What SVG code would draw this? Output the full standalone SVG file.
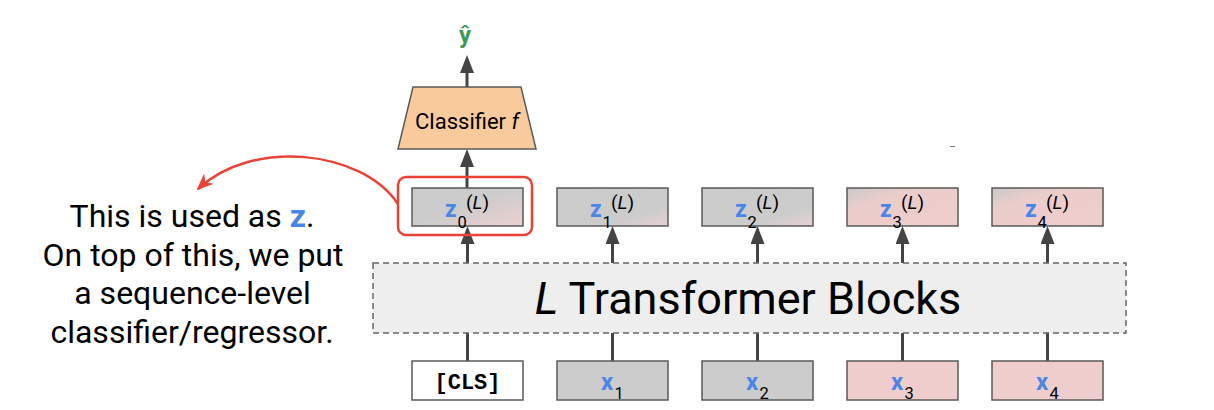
<svg xmlns="http://www.w3.org/2000/svg" width="1214" height="410" viewBox="0 0 1214 410">
<style>
  text { font-family: Roboto, "Liberation Sans", sans-serif; }
  .box { stroke: #595959; stroke-width: 1.5; }
  .gray { fill: #cccccc; }
  .pink { fill: #efcdcc; }
  .var { fill: #4a86e8; font-weight: bold; }
  .zv { font-size: 23px; }
  .xv { font-size: 24px; }
  .sub { font-size: 16.5px; fill: #000; }
  .sup { font-size: 19px; fill: #000; }
  .note { font-size: 32px; fill: #000; }
  .conn { stroke: #444444; stroke-width: 3; fill: none; }
  .arr { stroke: #444444; stroke-width: 3; fill: none; marker-end: url(#ah); }
</style>
<defs>
  <marker id="ah" markerUnits="userSpaceOnUse" viewBox="0 0 18 14" refX="6" refY="7" markerWidth="18" markerHeight="14" orient="auto">
    <path d="M0,0 L18,7 L0,14 z" fill="#444444"/>
  </marker>
  <marker id="redah" markerUnits="userSpaceOnUse" viewBox="0 0 18 16" refX="15" refY="8" markerWidth="18" markerHeight="16" orient="auto">
    <path d="M0,1 L17,8 L0,15 L5,8 z" fill="#ea4335"/>
  </marker>
  <linearGradient id="g0" x1="0" y1="0" x2="1" y2="1">
    <stop offset="0" stop-color="#cbcbcb"/>
    <stop offset="0.45" stop-color="#cccccc"/>
    <stop offset="1" stop-color="#ecd0d0"/>
  </linearGradient>
  <linearGradient id="g1" x1="0" y1="0" x2="1" y2="1">
    <stop offset="0" stop-color="#cbcbcb"/>
    <stop offset="0.72" stop-color="#cccccc"/>
    <stop offset="1" stop-color="#e8cfcf"/>
  </linearGradient>
  <linearGradient id="g3" x1="0" y1="0" x2="1" y2="1">
    <stop offset="0" stop-color="#c8c8c8"/>
    <stop offset="0.3" stop-color="#ebcdcc"/>
    <stop offset="1" stop-color="#efcdcc"/>
  </linearGradient>
</defs>

<!-- connectors -->
<g id="connectors">
  <line class="arr" x1="467" y1="87" x2="467" y2="67"/>
  <line class="arr" x1="467" y1="188" x2="467" y2="161"/>
  <line class="arr" x1="467.5" y1="263" x2="467.5" y2="238"/>
  <line class="arr" x1="612.5" y1="263" x2="612.5" y2="238"/>
  <line class="arr" x1="757.5" y1="263" x2="757.5" y2="238"/>
  <line class="arr" x1="902.5" y1="263" x2="902.5" y2="238"/>
  <line class="arr" x1="1047.5" y1="263" x2="1047.5" y2="238"/>
  <line class="conn" x1="467.5" y1="361" x2="467.5" y2="333"/>
  <line class="conn" x1="612.5" y1="361" x2="612.5" y2="333"/>
  <line class="conn" x1="757.5" y1="361" x2="757.5" y2="333"/>
  <line class="conn" x1="902.5" y1="361" x2="902.5" y2="333"/>
  <line class="conn" x1="1047.5" y1="361" x2="1047.5" y2="333"/>
  <path d="M398,204 C362,150 252,138 198,189" stroke="#ea4335" stroke-width="2.5" fill="none" marker-end="url(#redah)"/>
</g>

<g id="yhat">
  <text x="465" y="43" font-size="24" font-weight="bold" fill="#3a9b57" text-anchor="middle">ŷ</text>
</g>

<g id="classifier">
  <polygon points="413,87 521,87 536,149 398,149" fill="#f9cb9c" stroke="#595959" stroke-width="1.5"/>
  <text x="467" y="129" font-size="22" text-anchor="middle" fill="#000">Classifier <tspan font-style="italic">f</tspan></text>
</g>

<g id="z0">
  <rect class="box" x="412" y="188" width="111" height="38" fill="url(#g0)"/>
  <text x="445" y="217" class="var zv">z</text>
  <text x="457.5" y="228" class="sub">0</text>
  <text x="466" y="209" class="sup">(<tspan font-style="italic">L</tspan>)</text>
</g>
<g id="z1">
  <rect class="box" x="557" y="188" width="111" height="38" fill="url(#g1)"/>
  <text x="590" y="217" class="var zv">z</text>
  <text x="602.5" y="228" class="sub">1</text>
  <text x="611" y="209" class="sup">(<tspan font-style="italic">L</tspan>)</text>
</g>
<g id="z2">
  <rect class="box" x="702" y="188" width="111" height="38" fill="url(#g1)"/>
  <text x="735" y="217" class="var zv">z</text>
  <text x="747.5" y="228" class="sub">2</text>
  <text x="756" y="209" class="sup">(<tspan font-style="italic">L</tspan>)</text>
</g>
<g id="z3">
  <rect class="box" x="847" y="188" width="111" height="38" fill="url(#g3)"/>
  <text x="880" y="217" class="var zv">z</text>
  <text x="892.5" y="228" class="sub">3</text>
  <text x="901" y="209" class="sup">(<tspan font-style="italic">L</tspan>)</text>
</g>
<g id="z4">
  <rect class="box" x="992" y="188" width="111" height="38" fill="url(#g3)"/>
  <text x="1025" y="217" class="var zv">z</text>
  <text x="1037.5" y="228" class="sub">4</text>
  <text x="1046" y="209" class="sup">(<tspan font-style="italic">L</tspan>)</text>
</g>

<g id="highlight">
  <rect x="398" y="177" width="134" height="58" rx="8" fill="none" stroke="#ea4335" stroke-width="2.5"/>
</g>

<g id="transformer">
  <rect x="373" y="263" width="753" height="70" fill="#eeeeee" stroke="#666666" stroke-width="1.5" stroke-dasharray="6 4"/>
  <text x="748" y="314" font-size="45" text-anchor="middle" fill="#000"><tspan font-style="italic">L</tspan> Transformer Blocks</text>
</g>

<g id="cls">
  <rect class="box" x="412" y="361" width="111" height="39" fill="#ffffff"/>
  <text x="467.5" y="389" font-size="22" font-weight="bold" text-anchor="middle" fill="#000" style="font-family:'Liberation Mono','Courier New',monospace">[CLS]</text>
</g>
<g id="x1">
  <rect class="box gray" x="557" y="361" width="111" height="39"/>
  <text x="601" y="390" class="var xv">x</text>
  <text x="614.5" y="399" class="sub">1</text>
</g>
<g id="x2">
  <rect class="box gray" x="702" y="361" width="111" height="39"/>
  <text x="746" y="390" class="var xv">x</text>
  <text x="759.5" y="399" class="sub">2</text>
</g>
<g id="x3">
  <rect class="box pink" x="847" y="361" width="111" height="39"/>
  <text x="891" y="390" class="var xv">x</text>
  <text x="904.5" y="399" class="sub">3</text>
</g>
<g id="x4">
  <rect class="box pink" x="992" y="361" width="111" height="39"/>
  <text x="1036" y="390" class="var xv">x</text>
  <text x="1049.5" y="399" class="sub">4</text>
</g>

<g id="note">
  <text x="192" y="227" class="note" text-anchor="middle">This is used as <tspan fill="#4a86e8" font-weight="bold">z</tspan>.</text>
  <text x="193" y="265.5" class="note" text-anchor="middle">On top of this, we put</text>
  <text x="192.5" y="304" class="note" text-anchor="middle">a sequence-level</text>
  <text x="192" y="342.5" class="note" text-anchor="middle">classifier/regressor.</text>
</g>

<line x1="950" y1="146.5" x2="955" y2="146.5" stroke="#777777" stroke-width="1"/>
</svg>
